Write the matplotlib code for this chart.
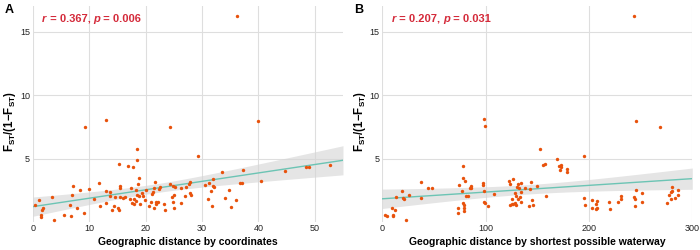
import numpy as np
import matplotlib
matplotlib.use("Agg")
import matplotlib.pyplot as plt

plt.rcParams["font.family"] = ["Liberation Sans", "DejaVu Sans"]
plt.rcParams["mathtext.fontset"] = "custom"
plt.rcParams["mathtext.rm"] = "Liberation Sans"
plt.rcParams["mathtext.bf"] = "Liberation Sans:bold"
plt.rcParams["mathtext.it"] = "Liberation Sans:italic"

# --- Panel A: distance by coordinates vs Fst/(1-Fst) ---
coord_x = [0.4, 1.1, 1.4, 1.4, 1.7, 1.8, 3.75, 3.4, 5.5, 6.5, 6.8, 6.9, 7.1, 7.9, 8.3, 9.0,
           9.3, 9.9, 10.8, 11.8, 11.9, 12.9, 13.0, 13.0, 13.6, 13.75, 14.0, 14.3, 14.6, 15.1,
           15.2, 15.3, 15.4, 15.5, 15.5, 15.95, 16.25, 16.9, 17.3, 17.4, 17.5, 17.7, 17.9, 18.0,
           18.2, 18.3, 18.4, 18.5, 18.5, 18.6, 18.75, 18.8, 19.0, 19.35, 19.6, 19.8, 20.1, 20.6,
           21.0, 21.1, 21.25, 21.5, 21.5, 21.7, 21.8, 21.9, 22.1, 22.3, 22.6, 23.3, 23.4, 24.3,
           24.4, 24.6, 24.8, 24.8, 25.0, 25.0, 25.2, 26.3, 26.3, 27.0, 27.1, 27.7, 27.8, 27.9,
           28.0, 29.2, 30.6, 31.1, 31.3, 31.5, 31.7, 32.0, 32.0, 32.2, 33.5, 34.1, 34.8, 35.1,
           36.0, 36.2, 36.8, 37.0, 37.3, 39.9, 40.4, 44.8, 48.5, 49.0, 52.7]
coord_y = [1.32, 1.75, 0.53, 0.42, 0.93, 1.08, 0.13, 1.96, 0.58, 1.32, 0.45, 2.14, 2.88, 1.08, 2.51, 0.69,
           7.49, 2.62, 1.83, 3.10, 1.27, 2.46, 1.48, 8.07, 2.06, 2.38, 0.93, 1.24, 2.01, 1.11,
           4.55, 0.93, 2.01, 2.88, 2.67, 1.90, 1.98, 4.44, 1.80, 2.65, 1.48, 4.37, 1.85, 1.40,
           2.54, 1.64, 4.92, 5.74, 2.12, 2.99, 3.44, 2.06, 1.43, 2.25, 2.04, 1.75, 2.54, 1.24,
           1.59, 2.20, 2.33, 2.70, 1.14, 3.17, 1.59, 1.43, 1.56, 2.59, 2.80, 1.40, 0.98, 2.99,
           7.49, 1.98, 2.83, 1.59, 1.11, 2.17, 2.78, 1.48, 2.67, 2.09, 2.78, 2.99, 3.17, 2.30,
           2.12, 5.19, 2.91, 1.85, 3.04, 2.41, 1.30, 3.39, 2.88, 2.80, 3.94, 1.90, 2.51, 1.19,
           1.75, 16.27, 3.07, 3.10, 4.13, 7.96, 3.25, 4.02, 4.34, 4.31, 4.50]

# --- Panel B: shortest waterway distance vs Fst/(1-Fst) ---
water_x = [2.9, 4.8, 9.6, 10.3, 10.6, 12.2, 13.5, 19.3, 19.9, 21.5, 23.5, 25.7, 37.9, 37.9, 44.1,
           48.2, 73.0, 73.3, 74.6, 77.5, 77.8, 78.1, 78.5, 78.8, 78.8, 78.8, 80.4, 81.0, 82.6,
           84.6, 85.5, 85.9, 97.7, 98.0, 98.1, 98.4, 98.4, 99.0, 99.0, 102.3, 107.7, 122.8, 123.2,
           124.1, 125.1, 125.7, 126.7, 127.0, 128.3, 128.6, 129.6, 129.9, 130.2, 130.9, 131.8,
           132.8, 133.4, 133.8, 134.1, 134.4, 137.9, 142.4, 143.1, 144.4, 145.3, 146.0, 150.2,
           152.4, 155.9, 157.6, 158.8, 169.5, 171.4, 172.0, 172.7, 173.3, 178.8, 179.1, 195.5,
           195.5, 195.8, 202.6, 202.9, 206.4, 206.8, 207.7, 208.0, 219.6, 220.0, 227.7, 230.9,
           231.2, 243.8, 244.0, 244.4, 245.0, 245.1, 245.3, 251.1, 251.4, 268.8, 275.9, 277.5,
           279.1, 279.4, 280.1, 280.7, 282.9, 285.9, 286.2]
water_y = [0.58, 0.48, 1.11, 0.58, 0.48, 0.95, 1.98, 2.46, 1.93, 1.80, 0.13, 2.12, 3.12, 1.88, 2.67,
           2.70, 1.14, 0.74, 2.94, 2.46, 4.42, 3.47, 1.53, 1.32, 1.11, 0.87, 3.20, 2.06, 2.06,
           2.65, 2.83, 2.65, 3.07, 2.91, 8.12, 2.41, 1.59, 1.48, 7.54, 1.30, 2.20, 3.25, 1.32,
           2.99, 1.46, 1.80, 3.39, 1.46, 2.30, 1.48, 2.06, 1.38, 2.80, 1.80, 2.99,
           2.72, 1.96, 2.35, 1.61, 3.07, 2.70, 1.27, 2.59, 3.17, 1.77, 1.38, 2.88,
           5.77, 4.47, 4.55, 2.09, 4.95, 4.44, 4.07, 4.52, 4.34, 4.15, 3.94, 5.21,
           1.88, 1.32, 1.75, 1.14, 1.46, 1.03, 1.64, 1.11, 1.59, 1.06, 1.56, 1.80,
           2.09, 16.3, 1.96, 1.24, 1.85, 7.99, 2.54, 2.30, 1.59, 7.49, 1.51, 2.12,
           1.85, 2.33, 2.80, 2.46, 1.88, 2.51, 2.17]

panels = [
    ("A", coord_x, coord_y, (0, 55), [0, 10, 20, 30, 40, 50],
     "Geographic distance by coordinates", "0.367", "0.006"),
    ("B", water_x, water_y, (0, 300), [0, 100, 200, 300],
     "Geographic distance by shortest possible waterway", "0.207", "0.031"),
]

PT_COLOR = "#e8520c"
LINE_COLOR = "#6cc4b4"
TXT_RED = "#d42a3a"


def fit_with_ci(x, y, xs, tval=1.98):
    x = np.asarray(x)
    y = np.asarray(y)
    b, a = np.polyfit(x, y, 1)
    resid = y - (a + b * x)
    n = len(x)
    s = np.sqrt(np.sum(resid ** 2) / (n - 2))
    se = s * np.sqrt(1 / n + (xs - x.mean()) ** 2 / np.sum((x - x.mean()) ** 2))
    fit = a + b * xs
    return fit, fit - tval * se, fit + tval * se


def rich_text(fig, ax, x, y, pieces, **kw):
    # draw text pieces one after another in axes coords
    renderer = fig.canvas.get_renderer()
    for s, style in pieces:
        t = ax.text(x, y, s, transform=ax.transAxes, style=style, **kw)
        bb = t.get_window_extent(renderer=renderer)
        x += bb.width / ax.bbox.width


fig = plt.figure(figsize=(7, 2.5), dpi=100)
lefts = [0.047, 0.546]
for (lab, xv, yv, xlim, xticks, xlabel, r, p), left in zip(panels, lefts):
    ax = fig.add_axes([left, 0.112, 0.443, 0.864])
    ax.set_xlim(*xlim)
    ax.set_ylim(0, 17.05)
    ax.set_xticks(xticks)
    ax.set_yticks([5, 10, 15])
    ax.grid(True, color="#dedede", linewidth=0.8)
    ax.set_axisbelow(True)
    for sp in ax.spines.values():
        sp.set_visible(False)
    ax.tick_params(length=0, labelsize=6.5, colors="#222222")
    ax.tick_params(axis="x", pad=1.5)
    ax.tick_params(axis="y", pad=2)

    xs = np.linspace(xlim[0], xlim[1], 200)
    fit, lo, hi = fit_with_ci(xv, yv, xs)
    ax.fill_between(xs, lo, hi, color="#d4d4d4", alpha=0.6, linewidth=0, zorder=1)
    ax.plot(xs, fit, color=LINE_COLOR, linewidth=1.0, zorder=2)
    ax.scatter(xv, yv, s=6, color=PT_COLOR, linewidths=0, zorder=3)

    ax.set_xlabel(xlabel, fontsize=7.5, fontweight="bold", labelpad=2.5)
    # y label placed in figure coords, slightly below the axes centre like the reference
    fig.text(left - 0.032, 0.512, r"$\mathbf{F_{ST}/(1{-}F_{ST})}$", fontsize=8.3,
             rotation=90, ha="center", va="center")

    rich_text(fig, ax, 0.03, 0.965,
              [("r", "italic"), (f" = {r}, ", "normal"), ("p", "italic"), (f" = {p}", "normal")],
              color=TXT_RED, fontsize=8, fontweight="bold", va="top", ha="left")

    fig.text(left - 0.04, 0.985, lab, fontsize=9, fontweight="bold", va="top", ha="left")

fig.savefig("out.png", dpi=100)
